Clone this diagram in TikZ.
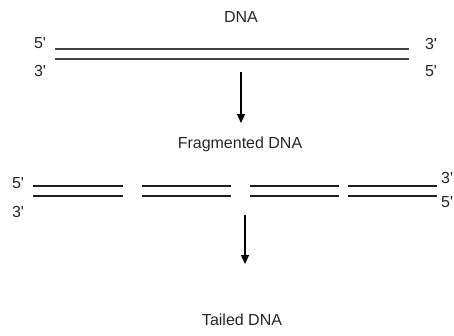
\documentclass[tikz,border=0pt]{standalone}
\usepackage{fontspec}
\setmainfont{Liberation Sans}[Ligatures=TeXOff]
\usetikzlibrary{arrows.meta}
\begin{document}
\begin{tikzpicture}[x=1pt,y=-1pt,
  lbl/.style={font=\fontsize{16}{18}\selectfont, inner sep=0pt, text=black!85},
  strand/.style={line width=1.3pt, draw=black!75},
  fstrand/.style={line width=1.3pt, draw=black!88},
  flow/.style={line width=1.3pt, draw=black, -{Triangle[length=9pt,width=8pt]}}]
\useasboundingbox (0,0) rectangle (454,335);
% top
\node[lbl] (dna) at (241,17) {DNA};
\node[lbl] (t5l) at (40,43) {5'};
\node[lbl] (t3l) at (40,71) {3'};
\node[lbl] (t3r) at (431,44) {3'};
\node[lbl] (t5r) at (431,71) {5'};
\coordinate (a1) at (55,49); \coordinate (a2) at (409,49);
\coordinate (b1) at (55,59); \coordinate (b2) at (409,59);
\draw[strand] (a1) -- (a2);
\draw[strand] (b1) -- (b2);
\coordinate (ar1s) at (241,72); \coordinate (ar1e) at (241,123);
\draw[flow] (ar1s) -- (ar1e);
% fragmented
\node[lbl] (frag) at (240,144) {Fragmented DNA};
\node[lbl] (f5l) at (18,183) {5'};
\node[lbl] (f3l) at (18,212) {3'};
\node[lbl, anchor=west] (f3r) at (441,178) {3'};
\node[lbl, anchor=west] (f5r) at (441,202) {5'};
\foreach \i/\s/\e in {1/33/123, 2/142/231, 3/250/339, 4/348/437}{
  \coordinate (u\i s) at (\s,186); \coordinate (u\i e) at (\e,186);
  \coordinate (l\i s) at (\s,196); \coordinate (l\i e) at (\e,196);
  \draw[fstrand] (u\i s) -- (u\i e);
  \draw[fstrand] (l\i s) -- (l\i e);
}
\coordinate (ar2s) at (245,215); \coordinate (ar2e) at (245,264);
\draw[flow] (ar2s) -- (ar2e);
% tailed
\node[lbl] (tail) at (242,320) {Tailed DNA};
\end{tikzpicture}
\end{document}
